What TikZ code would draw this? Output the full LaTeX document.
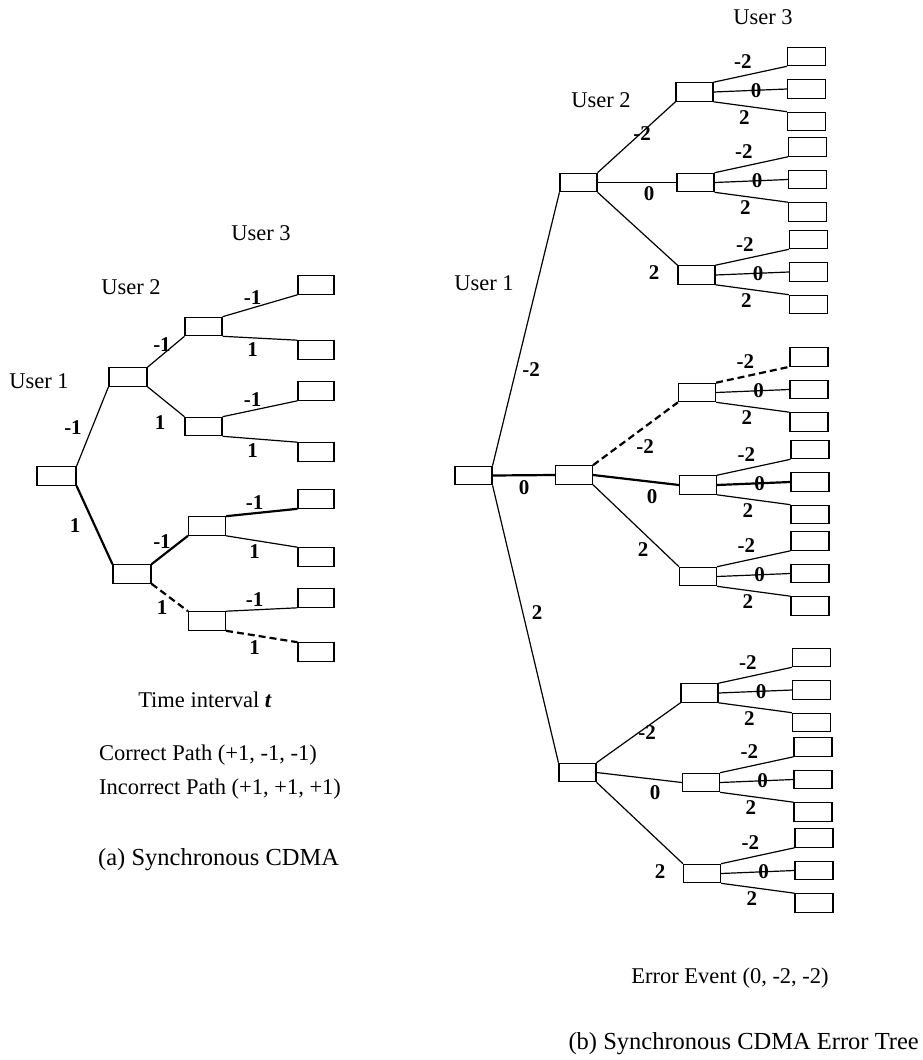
\documentclass[tikz,border=0pt]{standalone}
\usepackage{fontspec}
\setmainfont{Liberation Serif}
\usetikzlibrary{calc}
\tikzset{
  cell/.style={draw, line width=1.1pt, minimum width=37pt, minimum height=18.5pt, inner sep=0pt},
  leaf/.style={cell, minimum width=38pt},
  lbl/.style={font=\fontsize{21}{23}\selectfont\bfseries, inner sep=1pt},
  usertag/.style={font=\fontsize{22.5}{26}\selectfont, inner sep=0pt},
  note/.style={font=\fontsize{22.5}{26}\selectfont, inner sep=0pt, anchor=west},
  caption/.style={font=\fontsize{24.5}{28}\selectfont, inner sep=0pt},
  branch/.style={line width=1.2pt},
  correct/.style={line width=2.2pt},
  wrong/.style={line width=2.2pt, dash pattern=on 7pt off 4pt},
}
\begin{document}
\begin{tikzpicture}[x=1pt, y=-1pt]
  \useasboundingbox (0,0) rectangle (922,1060);

  % (a) synchronous CDMA
  \node[cell, minimum width=39pt] (aroot) at (56.5,476) {};
  \node[cell, minimum width=38pt] (aup) at (128,377) {};
  \node[cell, minimum width=38pt] (adn) at (132,574) {};
  \foreach \n/\x/\y in {1/203.5/326.5, 2/203.5/426.5, 3/207/526, 4/207/621}
    \node[cell] (a\n) at (\x,\y) {};
  \foreach \y [count=\i] in {285,350,391,452,499,557,598,652}
    \node[cell, minimum width=36pt] (al\i) at (316,\y) {};

  \draw[branch] (aroot.north east) -- (aup.south west);
  \draw[correct] (aroot.south east) -- (adn.north west);
  \draw[branch] (aup.north east) -- (a1.south west);
  \draw[branch] (aup.south east) -- (a2.north west);
  \draw[correct] (adn.north east) -- (a3.south west);
  \draw[wrong] (adn.south east) -- (a4.north west);
  \foreach \n/\up/\dn in {1/branch/branch, 2/branch/branch, 3/correct/branch, 4/branch/wrong} {
    \pgfmathtruncatemacro\t{2*\n-1}
    \pgfmathtruncatemacro\b{2*\n}
    \draw[\up] (a\n.north east) -- node[lbl, pos=.4, above=2pt] {-1} (al\t.south west);
    \draw[\dn] (a\n.south east) -- node[lbl, pos=.4, below=3pt] {1} (al\b.north west);
  }
  \foreach \x/\y/\v [count=\i] in {73/428/-1, 75/526/1, 162/345/-1, 160/423/1, 162/542/-1, 162/608/1}
    \node[lbl] (alab\i) at (\x,\y) {\v};

  \node[usertag] (auser1) at (39,381) {User 1};
  \node[usertag] (auser2) at (131,287) {User 2};
  \node[usertag] (auser3) at (261,233) {User 3};
  \node[usertag] (atime) at (205,700) {Time interval \textbf{\textit{t}}};
  \node[note] (acorrect) at (99,755) {Correct Path (+1, -1, -1)};
  \node[note] (awrong) at (99,789) {Incorrect Path (+1, +1, +1)};
  \node[caption, anchor=west] (acap) at (98,860) {(a) Synchronous CDMA};

  % (b) error tree
  \node[cell] (broot) at (473.5,475.5) {};
  \node[cell] (bup) at (578.5,182.5) {};
  \node[cell] (bmid) at (574,475) {};
  \node[cell] (bdn) at (577.5,772.5) {};
  \foreach \n/\x/\y/\sa/\sb in {1/694.5/92/branch/branch, 2/695.5/182.5/branch/branch,
      3/696.5/275/branch/branch, 4/697/392.5/wrong/branch, 5/698/485/branch/correct,
      6/698/576.5/branch/branch, 7/699.5/693/branch/branch, 8/701/782.5/branch/branch,
      9/702/873.5/branch/branch} {
    \node[cell] (b\n) at (\x,\y) {};
    \node[leaf] (b\n-1) at (\x+112,\y-35.5) {};
    \node[leaf] (b\n-2) at (\x+112,\y-3) {};
    \node[leaf] (b\n-3) at (\x+112,\y+29.5) {};
    \draw[\sa] (b\n.north east) -- node[lbl, pos=.4, above=6pt] {-2} (b\n-1.south west);
    \draw[\sb] (b\n.east) -- node[lbl, pos=.58] {0} (b\n-2.west);
    \draw[branch] (b\n.south east) -- node[lbl, pos=.42, below=3pt] {2} (b\n-3.north west);
  }

  \draw[branch] (broot.north east) -- (bup.south west);
  \draw[correct] (broot.east) -- (bmid.west);
  \draw[branch] (broot.south east) -- (bdn.north west);
  \draw[branch] (bup.north east) -- (b1.south west);
  \draw[branch] (bup.east) -- (b2.west);
  \draw[branch] (bup.south east) -- (b3.north west);
  \draw[wrong] (bmid.north east) -- (b4.south west);
  \draw[correct] (bmid.east) -- (b5.west);
  \draw[branch] (bmid.south east) -- (b6.north west);
  \draw[branch] (bdn.north east) -- (b7.south west);
  \draw[branch] (bdn.east) -- (b8.west);
  \draw[branch] (bdn.south east) -- (b9.north west);
  \foreach \x/\y/\v [count=\i] in {531/370/-2, 524/488/0, 537/613/2,
      642/134/-2, 649/194/0, 654/273/2, 645/447/-2, 652/497/0, 643/550/2,
      647/733/-2, 655/793/0, 660/872/2}
    \node[lbl] (blab\i) at (\x,\y) {\v};

  \node[usertag] (buser1) at (484,283) {User 1};
  \node[usertag] (buser2) at (601,100) {User 2};
  \node[usertag] (buser3) at (763,17) {User 3};
  \node[usertag] (bevent) at (730,978) {Error Event (0, -2, -2)};
  \node[caption, anchor=east] (bcap) at (919,1044) {(b) Synchronous CDMA Error Tree};
\end{tikzpicture}
\end{document}
